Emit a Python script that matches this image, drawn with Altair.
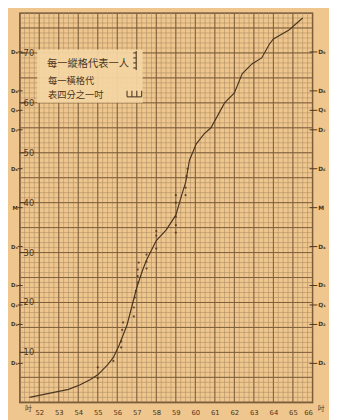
import altair as alt
import pandas as pd
import numpy as np

# ---- data ----
curve_x = [51.5, 52.5, 53.5, 54.1, 54.6, 55.0, 55.5, 55.8, 56.1, 56.5, 56.8, 57.0, 57.3, 57.5,
           58.0, 58.5, 59.0, 59.3, 59.5, 59.7, 60.05, 60.45, 60.8, 61.5, 62.0, 62.4, 62.9,
           63.4, 63.8, 64.0, 64.8, 65.5]
curve_y = [1.0, 1.8, 2.6, 3.5, 4.5, 5.5, 7.5, 9.0, 11.5, 15.5, 20.0, 23.0, 26.5, 28.5,
           32.4, 34.5, 37.5, 41.5, 44.0, 48.5, 51.8, 53.8, 55.0, 60.0, 62.0, 65.8, 67.8,
           69.0, 71.8, 72.8, 74.6, 77.0]

dot_x = [55.0, 55.0, 55.8, 56.2, 56.2, 56.25, 56.3, 56.85, 56.85, 56.9, 56.95, 57.05, 57.05,
         57.05, 57.1, 57.5, 57.5, 57.5, 58.0, 58.0, 58.0, 59.0, 59.0, 59.0, 59.0, 59.0,
         59.5, 59.5, 59.55, 59.6]
dot_y = [4.8, 7.0, 8.3, 11.0, 12.2, 14.5, 16.0, 17.2, 19.0, 21.0, 22.3, 24.0, 25.3,
         26.6, 28.0, 26.8, 28.2, 29.6, 30.8, 33.4, 34.3, 34.0, 35.5, 37.2, 40.0, 41.5,
         41.5, 43.0, 45.3, 46.8]

mark_names = ["D₁", "D₂", "Q₁", "D₃", "D₄", "M", "D₆", "D₇", "Q₃", "D₈", "D₉"]
mark_values = [7.8, 15.6, 19.5, 23.4, 31.2, 39.0, 46.8, 54.6, 58.5, 62.4, 70.2]

y_labels = [10, 20, 30, 40, 50, 60, 70]
x_ticks = list(range(52, 67))

note_lines = ["每一縱格代表一人", "每一橫格代", "表四分之一吋"]

# grid (quarter inch / one person)
x_minor = [float(v) for v in np.arange(51, 66.001, 0.25)]
x_major = list(range(51, 67))
y_minor = list(range(0, 79))
y_major = list(range(0, 79, 5))

# ---- styles ----
BG = "#efc78e"
INK = "#4a3520"
GRID_MINOR = "#ae8e66"
GRID_MAJOR = "#7d5e3c"
FONT_CJK = "Noto Sans CJK TC"

W, H = 300, 399
xs = alt.Scale(domain=[51, 66], nice=False, zero=False)
ys = alt.Scale(domain=[0, 78], nice=False, zero=False)

xaxis = alt.Axis(
    values=x_ticks, grid=False, ticks=False, domain=False, title=None, labelOverlap=False,
    labelFontSize=7, labelColor=INK, labelPadding=6, labelFont="DejaVu Sans",
)


def X(field):
    return alt.X(field, scale=xs, axis=xaxis)


def Y(field):
    return alt.Y(field, scale=ys, axis=None)


def vrules(vals, color, width):
    return alt.Chart(pd.DataFrame({"v": vals})).mark_rule(color=color, strokeWidth=width).encode(
        x=X("v:Q"), y=alt.value(0), y2=alt.value(H))


def hrules(vals, color, width):
    return alt.Chart(pd.DataFrame({"v": vals})).mark_rule(color=color, strokeWidth=width).encode(
        y=Y("v:Q"), x=alt.value(0), x2=alt.value(W))


grid = [vrules(x_minor, GRID_MINOR, 0.6), hrules(y_minor, GRID_MINOR, 0.6),
        vrules(x_major, GRID_MAJOR, 1.0), hrules(y_major, GRID_MAJOR, 1.0)]

curve_df = pd.DataFrame({"x": curve_x, "y": curve_y})
line = alt.Chart(curve_df).mark_line(color=INK, strokeWidth=1.2).encode(x=X("x:Q"), y=Y("y:Q"))

dots_df = pd.DataFrame({"x": dot_x, "y": dot_y})
dots = alt.Chart(dots_df).mark_circle(color=INK, size=5, opacity=0.85).encode(
    x=X("x:Q"), y=Y("y:Q"))

# annotation box
box_df = pd.DataFrame({"x": [51.9], "x2": [57.3], "y": [60.0], "y2": [70.7]})
box = alt.Chart(box_df).mark_rect(color="#f4d6a4", opacity=0.93).encode(
    x=X("x:Q"), x2="x2:Q", y=Y("y:Q"), y2="y2:Q")

note_df = pd.DataFrame({"t": note_lines, "x": [52.4, 52.45, 52.45],
                        "y": [67.8, 64.4, 61.6], "s": [10.5, 9.5, 9.5]})
notes = alt.Chart(note_df).mark_text(align="left", baseline="middle", font=FONT_CJK,
                                      color=INK).encode(
    x=X("x:Q"), y=Y("y:Q"), text="t:N",
    size=alt.Size("s:Q", scale=None, legend=None))

# small comb glyphs illustrating cell size
comb_v_df = pd.DataFrame({"x": [56.97, 56.82, 56.82, 56.82, 56.82],
                          "x2": [56.97, 56.97, 56.97, 56.97, 56.97],
                          "y": [66.6, 67.0, 68.0, 69.0, 70.0],
                          "y2": [70.4, 67.0, 68.0, 69.0, 70.0]})
comb_h_df = pd.DataFrame({"x": [56.5, 56.5, 56.75, 57.0, 57.25],
                          "x2": [57.25, 56.5, 56.75, 57.0, 57.25],
                          "y": [61.2, 61.2, 61.2, 61.2, 61.2],
                          "y2": [61.2, 62.4, 62.4, 62.4, 62.4]})
comb_df = pd.concat([comb_v_df, comb_h_df], ignore_index=True)
combs = alt.Chart(comb_df).mark_rule(color=INK, strokeWidth=1.1).encode(
    x=X("x:Q"), x2="x2:Q", y=Y("y:Q"), y2="y2:Q")

# y number labels inside plot
ylab_df = pd.DataFrame({"v": y_labels, "t": [str(v) for v in y_labels]})
ylab_ticks = alt.Chart(ylab_df).mark_rule(color=INK, strokeWidth=1).encode(
    x=alt.value(0), x2=alt.value(6), y=Y("v:Q"))
ylab = alt.Chart(ylab_df).mark_text(align="left", baseline="middle", dx=1, fontSize=8.5,
                                     color=INK, font="DejaVu Sans").encode(
    x=alt.value(3), y=Y("v:Q"), text="t:N")

# decile / quartile marks on both sides
mk_df = pd.DataFrame({"v": mark_values, "t": mark_names})
mk_ticks_l = alt.Chart(mk_df).mark_rule(color=INK, strokeWidth=1).encode(
    x=alt.value(-2), x2=alt.value(3), y=Y("v:Q"))
mk_text_l = alt.Chart(mk_df).mark_text(align="right", baseline="middle", fontSize=5.5,
                                        fontWeight="bold", color=INK, dx=-2,
                                        font="DejaVu Sans").encode(
    x=alt.value(0), y=Y("v:Q"), text="t:N")
mk_ticks_r = alt.Chart(mk_df).mark_rule(color=INK, strokeWidth=1).encode(
    x=alt.value(W - 3), x2=alt.value(W + 5), y=Y("v:Q"))
mk_text_r = alt.Chart(mk_df).mark_text(align="left", baseline="middle", fontSize=6,
                                        fontWeight="bold", color=INK, dx=6,
                                        font="DejaVu Sans").encode(
    x=alt.value(W), y=Y("v:Q"), text="t:N")

# unit labels
unit_df = pd.DataFrame({"x": [51.45, 66.45], "t": ["吋", "吋"]})
units = alt.Chart(unit_df).mark_text(baseline="middle", font=FONT_CJK, fontSize=7,
                                      color=INK).encode(
    x=X("x:Q"), y=alt.value(H + 7), text="t:N")

chart = alt.layer(
    *grid, line, box, notes, combs, dots, ylab_ticks, ylab,
    mk_ticks_l, mk_text_l, mk_ticks_r, mk_text_r, units,
).properties(
    width=W, height=H,
    autosize=alt.AutoSizeParams(type="none"),
    padding={"left": 12, "top": 0, "right": 17, "bottom": 13},
).configure(background=BG).configure_view(
    stroke="#4a3520", strokeWidth=1.3, fill=BG
)

chart.save("out.html", embed_options={"renderer": "svg", "actions": False})
